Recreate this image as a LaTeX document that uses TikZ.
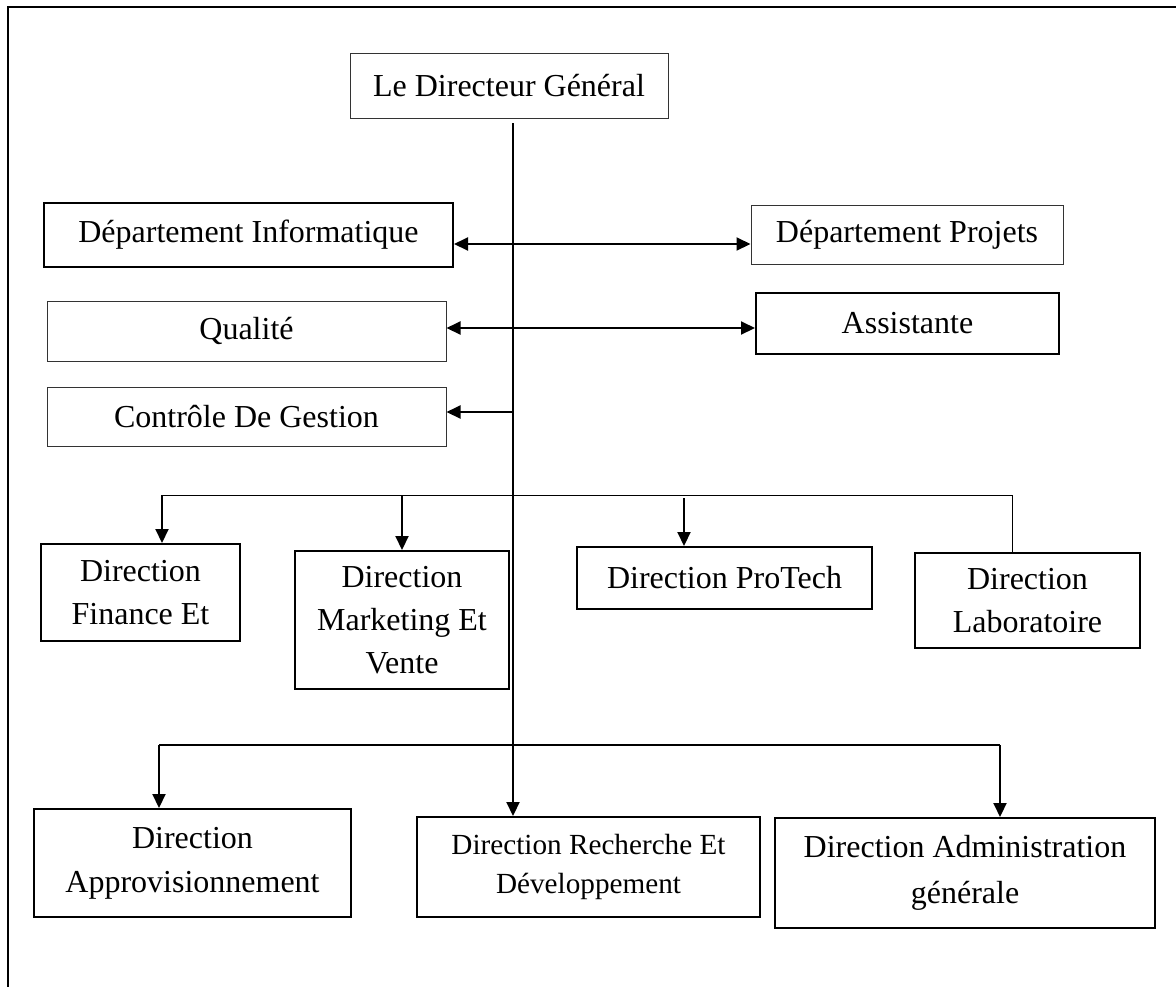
\documentclass[tikz,border=0pt]{standalone}
\usepackage{fontspec}
\setmainfont{Liberation Serif}
\usetikzlibrary{arrows.meta}
\begin{document}
\begin{tikzpicture}[x=0.5pt,y=-0.5pt,
  base/.style={inner sep=0pt,align=center,font=\fontsize{16}{21.5}\selectfont},
  thinbox/.style={base,draw=black!80,line width=0.5pt},
  thickbox/.style={base,draw=black,line width=1pt},
  conn/.style={line width=1pt},
  thinline/.style={line width=0.5pt},
  arr/.style={line width=1pt,-{Triangle[length=7pt,width=6.5pt]}},
  darr/.style={line width=1pt,{Triangle[length=7pt,width=6.5pt]}-{Triangle[length=7pt,width=6.5pt]}}]
\useasboundingbox (0,0) rectangle (1176,986);
% frame (top and left rules)
\draw[line width=1.4pt] (8,990) -- (8,7) -- (1180,7);

% nodes
\node[thinbox,minimum width=159pt,minimum height=32.5pt] (dg) at (509,85.5) {Le Directeur Général};
\node[thickbox,minimum width=204.5pt,minimum height=32pt] (info) at (248.5,235) {Département Informatique};
\node[thinbox,minimum width=156pt,minimum height=29.5pt] (proj) at (907,234.5) {Département Projets};
\node[thinbox,minimum width=199.5pt,minimum height=30pt] (qual) at (246.5,331) {Qualité};
\node[thickbox,minimum width=151.5pt,minimum height=30.5pt] (assist) at (907.5,323.5) {Assistante};
\node[thinbox,minimum width=199.5pt,minimum height=29.5pt] (ctrl) at (246.5,416.5) {Contrôle De Gestion};
\node[thickbox,minimum width=99.5pt,minimum height=48.5pt] (fin) at (140.5,592.5) {Direction\\Finance Et};
\node[thickbox,minimum width=106.75pt,minimum height=69pt] (mkt) at (402,620) {Direction\\Marketing Et\\Vente};
\node[thickbox,minimum width=147.5pt,minimum height=31pt] (pro) at (724.5,578) {Direction ProTech};
\node[thickbox,minimum width=112.5pt,minimum height=47.5pt] (lab) at (1027.5,600.5) {Direction\\Laboratoire};
\node[thickbox,minimum width=158.5pt,minimum height=54pt,font=\fontsize{16}{22}\selectfont] (appro) at (192.5,863) {Direction\\Approvisionnement};
\node[thickbox,minimum width=171.5pt,minimum height=50pt,font=\fontsize{14.6}{19.5}\selectfont] (rech) at (588.5,867) {Direction Recherche Et\\Développement};
\node[thickbox,minimum width=190pt,minimum height=55pt,font=\fontsize{16}{23}\selectfont] (admin) at (965,873) {Direction Administration\\générale};

% junction coordinates
\coordinate (t0) at (513,123);
\coordinate (j1) at (513,244);
\coordinate (j2) at (513,328);
\coordinate (j3) at (513,412);
\coordinate (m1) at (162,495);
\coordinate (m2) at (402,495);
\coordinate (m3) at (684,498);
\coordinate (m4) at (1012,495);
\coordinate (b1) at (159,745);
\coordinate (b2) at (1000,745);

% trunk
\draw[arr] (t0) -- (rech.north -| t0);

% side links
\draw[darr] (info.east |- j1) -- (proj.west |- j1);
\draw[darr] (qual.east |- j2) -- (assist.west |- j2);
\draw[arr] (j3) -- (ctrl.east |- j3);

% middle branch
\draw[thinline] (m1) -- (m4) -- (lab.north -| m4);
\draw[arr] (m1) -- (fin.north -| m1);
\draw[arr] (m2) -- (mkt.north -| m2);
\draw[arr] (m3) -- (pro.north -| m3);

% bottom branch
\draw[conn] (b1) -- (b2);
\draw[arr] (b1) -- (appro.north -| b1);
\draw[arr] (b2) -- (admin.north -| b2);
\end{tikzpicture}
\end{document}
